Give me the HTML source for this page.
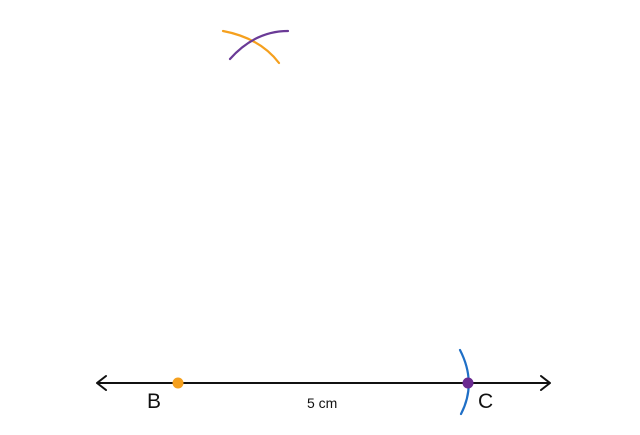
<!DOCTYPE html>
<html><head><style>html,body{margin:0;padding:0;background:#fff;}</style></head>
<body>
<svg width="640" height="435" viewBox="0 0 640 435" xmlns="http://www.w3.org/2000/svg" style="display:block">
<rect width="640" height="435" fill="#fff"/>
<path d="M223,31 Q260,38 279,63" fill="none" stroke="#f5a01e" stroke-width="2.2" stroke-linecap="round"/>
<path d="M230,59 Q255,31 288,31" fill="none" stroke="#6a3a96" stroke-width="2.2" stroke-linecap="round"/>
<line x1="97" y1="383" x2="549" y2="383" stroke="#111" stroke-width="2"/>
<polyline points="106,376 97,383 106,390" fill="none" stroke="#111" stroke-width="2" stroke-linecap="round" stroke-linejoin="round"/>
<polyline points="541,376 550,383 541,390" fill="none" stroke="#111" stroke-width="2" stroke-linecap="round" stroke-linejoin="round"/>
<path d="M460,350 Q477,383 461,414" fill="none" stroke="#1f6fc6" stroke-width="2.2" stroke-linecap="round"/>
<circle cx="178" cy="383" r="5.5" fill="#f5a01e"/>
<circle cx="468" cy="383" r="5.5" fill="#6a2a90"/>
<text x="147" y="408" font-family="Liberation Sans, sans-serif" font-size="21" fill="#111">B</text>
<text x="478" y="408" font-family="Liberation Sans, sans-serif" font-size="21" fill="#111">C</text>
<text x="307" y="408" font-family="Liberation Sans, sans-serif" font-size="14" fill="#111">5 cm</text>
</svg>
</body></html>
